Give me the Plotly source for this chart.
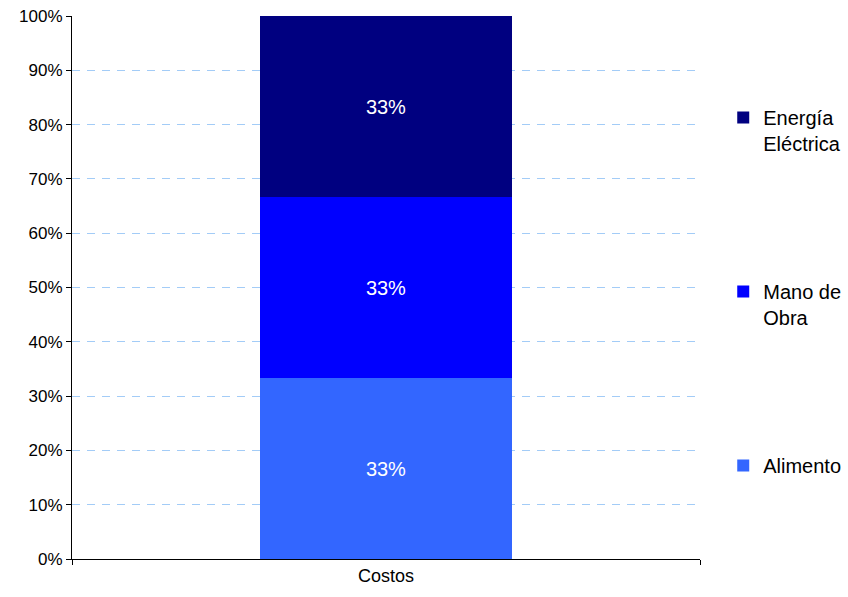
import plotly.graph_objects as go

categories = ["Costos"]
series_names = ["Alimento", "Mano de<br>Obra", "Energía<br>Eléctrica"]
series_values = [[33.33], [33.33], [33.34]]
series_colors = ["#3366FF", "#0000FF", "#000080"]
legend_ranks = [3, 2, 1]
y_ticks = [0, 10, 20, 30, 40, 50, 60, 70, 80, 90, 100]
y_tick_labels = ["0%", "10%", "20%", "30%", "40%", "50%", "60%", "70%", "80%", "90%", "100%"]

FONT = "Liberation Sans, Arial, sans-serif"

fig = go.Figure()
for i, (name, vals, col) in enumerate(zip(series_names, series_values, series_colors)):
    fig.add_trace(go.Bar(
        x=categories, y=vals, name=name, marker=dict(color=col, line=dict(width=0)),
        width=0.4, legendgroup=f"g{i}", legendrank=legend_ranks[i],
        texttemplate="%{y:.0f}%", textposition="inside", insidetextanchor="middle",
        textfont=dict(color="white", size=20, family=FONT),
        hoverinfo="skip",
    ))

fig.update_layout(
    width=848, height=597,
    margin=dict(l=72, r=148, t=16, b=38, autoexpand=False),
    barmode="stack",
    paper_bgcolor="white", plot_bgcolor="rgba(0,0,0,0)",
    font=dict(family=FONT, size=17, color="black"),
    legend=dict(
        x=1.037, xanchor="left", y=0.849, yanchor="top",
        traceorder="grouped", tracegroupgap=119,
        valign="top", font=dict(size=20, family=FONT, color="black"),
        itemwidth=30, bgcolor="rgba(0,0,0,0)",
    ),
    xaxis=dict(
        type="category", tickson="boundaries", ticks="outside", ticklen=5,
        tickcolor="black", showline=True, linecolor="black", linewidth=1,
        showgrid=False, range=[-0.5, 0.5], tickfont=dict(size=18), automargin=False,
    ),
    yaxis=dict(
        range=[0, 100], tickmode="array", tickvals=y_ticks, ticktext=y_tick_labels,
        ticks="outside", ticklen=5, tickcolor="black",
        showline=True, linecolor="black", linewidth=1,
        showgrid=True, gridcolor="#A3CCF7", griddash="8px,7px", gridwidth=1,
        zeroline=False, tickfont=dict(size=17), automargin=False,
    ),
)

fig.write_html(
    "out.html",
    config={"displayModeBar": False},
    post_script="document.body.style.margin='0';document.body.style.overflow='hidden';",
)
